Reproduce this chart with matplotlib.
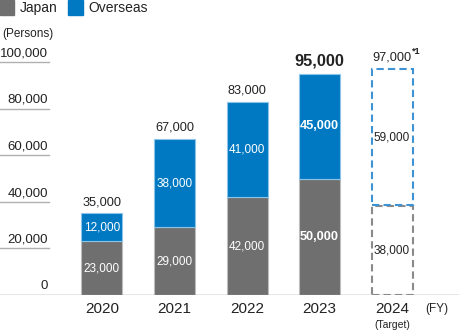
import matplotlib.pyplot as plt
from matplotlib.transforms import blended_transform_factory

plt.rcParams["font.family"] = ["Liberation Sans", "DejaVu Sans"]

years = ["2020", "2021", "2022", "2023", "2024"]
japan = [23000, 29000, 42000, 50000, 38000]
overseas = [12000, 38000, 41000, 45000, 59000]
totals = ["35,000", "67,000", "83,000", "95,000", "97,000"]
japan_labels = ["23,000", "29,000", "42,000", "50,000", "38,000"]
overseas_labels = ["12,000", "38,000", "41,000", "45,000", "59,000"]
yticks = [0, 20000, 40000, 60000, 80000, 100000]
ytick_labels = ["0", "20,000", "40,000", "60,000", "80,000", "100,000"]

GRAY = "#6f6f6f"
BLUE = "#0079c2"
W, H = 460, 331


def main():
    fig = plt.figure(figsize=(W / 100, H / 100), dpi=100)
    ax = fig.add_axes([0, 36 / H, 1, 233 / H])
    ax.set_xlim(-102 / 72.5, (W - 102) / 72.5)
    ax.set_ylim(0, 100000)
    ax.axis("off")

    width = 41 / 72.5
    n = len(years)
    xs = list(range(n))

    # actual years: solid bars
    ax.bar(xs[:-1], japan[:-1], width, color=GRAY, edgecolor="#bdbdbd", linewidth=0.8)
    ax.bar(xs[:-1], overseas[:-1], width, bottom=japan[:-1], color=BLUE,
           edgecolor="#8cc3e8", linewidth=0.8)

    # target year: dashed outlines
    ax.bar(xs[-1], japan[-1], width, fill=False, edgecolor="#8a8a8a",
           linewidth=1.5, linestyle=(0, (3.5, 2)))
    ax.bar(xs[-1], overseas[-1] - 600, width, bottom=japan[-1] + 600, fill=False,
           edgecolor="#3d93d3", linewidth=1.5, linestyle=(0, (3.5, 2)))

    for i in xs:
        j, o = japan[i], overseas[i]
        big = years[i] == "2023"
        target = i == n - 1
        col = "#222222" if target else "white"
        ax.text(i, j / 2, japan_labels[i], ha="center", va="center", color=col,
                fontsize=9.2 if big else 8.5, fontweight="bold" if big else "normal")
        ax.text(i, j + o / 2, overseas_labels[i], ha="center", va="center", color=col,
                fontsize=9.2 if big else 8.5, fontweight="bold" if big else "normal")
        ax.text(i, j + o + 2300, totals[i], ha="center", va="bottom", color="#222222",
                fontsize=11.8 if big else 9.2, fontweight="bold" if big else "normal")
        ax.text(i, -3000, years[i], ha="center", va="top", color="#222222", fontsize=11)

    ax.text(n - 1 + 0.28, j + o + 5600, "*1", ha="left", va="bottom",
            color="#222222", fontsize=6.5, fontweight="bold")
    ax.text(n - 1, -10800, "(Target)", ha="center", va="top", color="#222222", fontsize=7.5)
    ax.text((437 - 102) / 72.5, -3300, "(FY)", ha="center", va="top",
            color="#222222", fontsize=8.5)

    # baseline and y labels with short underlines
    ax.axhline(0, color="#888888", linewidth=1)
    trans = blended_transform_factory(ax.transAxes, ax.transData)
    for v, lab in zip(yticks, ytick_labels):
        if v > 0:
            ax.plot([0, 49 / W], [v, v], transform=trans, color="#b0b0b0",
                    linewidth=1, clip_on=False)
        ax.text(48 / W, v + 1200, lab, transform=trans, ha="right", va="bottom",
                color="#222222", fontsize=9.5)

    # legend and unit
    fig.patches.append(plt.Rectangle((0, 1 - 15 / H), 14 / W, 15 / H,
                                     transform=fig.transFigure, color=GRAY))
    fig.patches.append(plt.Rectangle((68 / W, 1 - 15 / H), 15 / W, 15 / H,
                                     transform=fig.transFigure, color=BLUE))
    fig.text(20 / W, 1 - 8 / H, "Japan", ha="left", va="center", fontsize=10, color="#222222")
    fig.text(88 / W, 1 - 8 / H, "Overseas", ha="left", va="center", fontsize=10, color="#222222")
    fig.text(2 / W, 1 - 34 / H, "(Persons)", ha="left", va="center", fontsize=8.5, color="#222222")

    fig.savefig("out.png", dpi=100)


if __name__ == "__main__":
    main()
